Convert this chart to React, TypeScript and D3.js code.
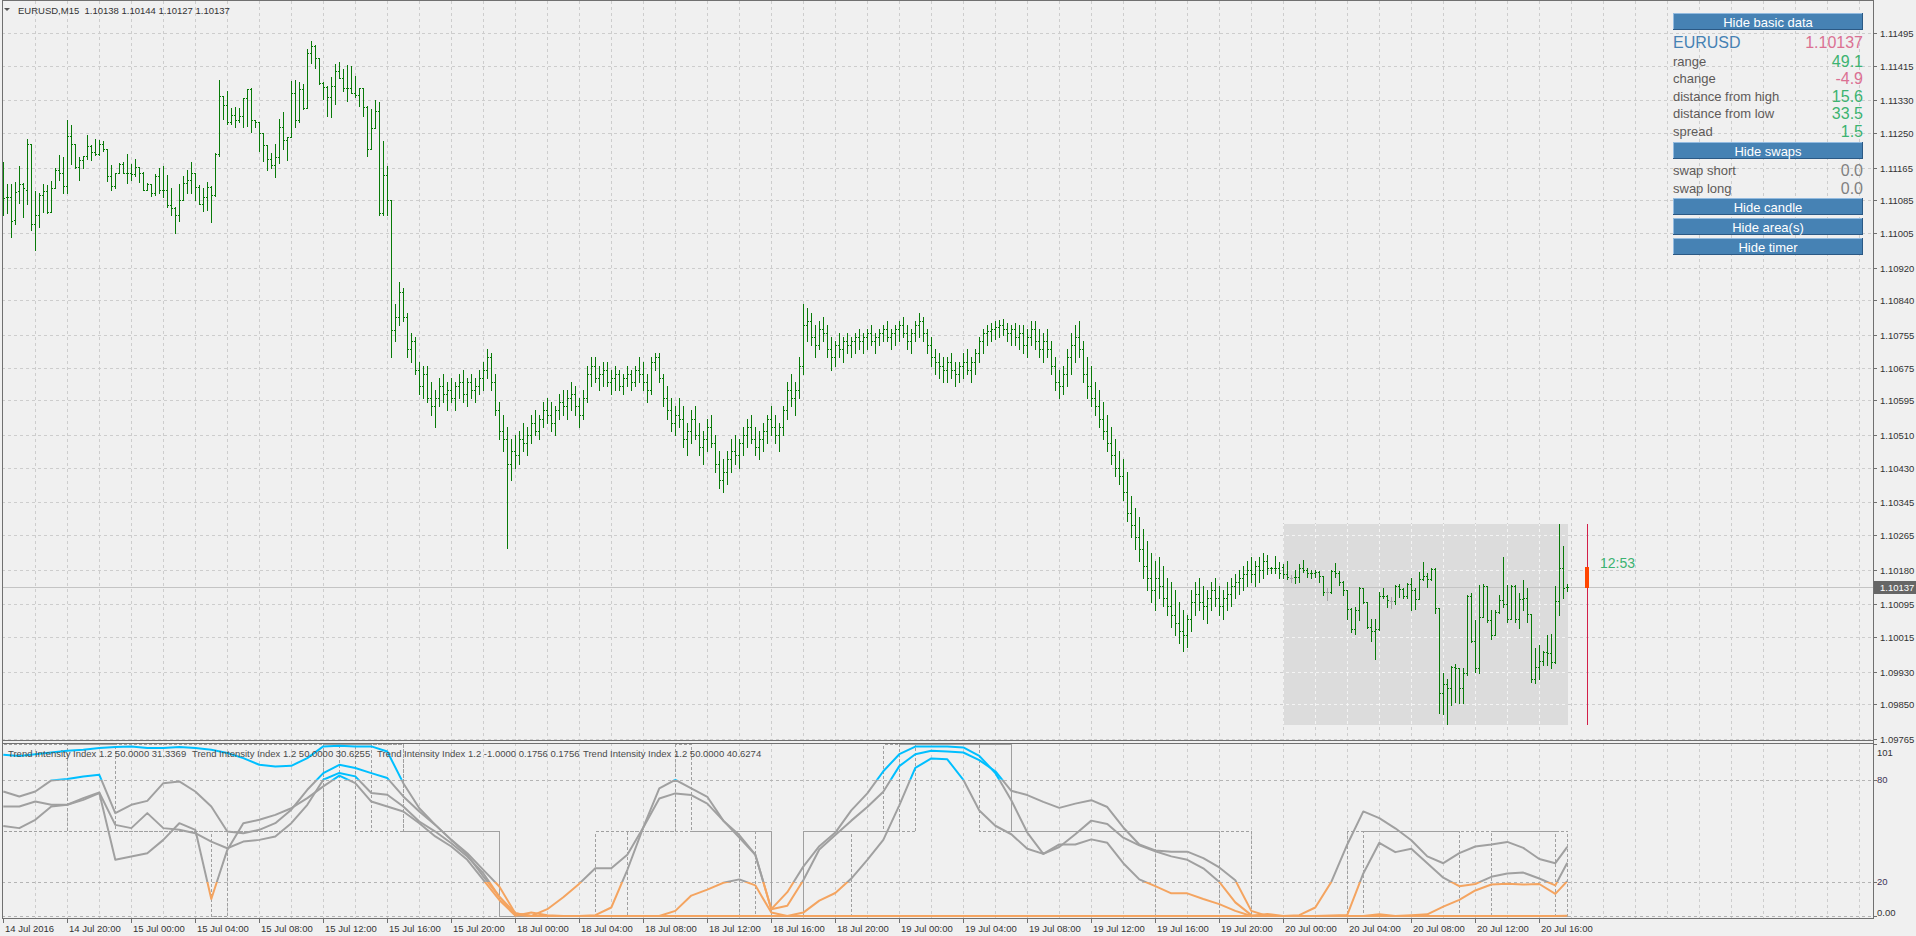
import React from "react";
import * as d3 from "d3";

const FONT = "'Liberation Sans', Arial, sans-serif";
const SYMBOL = "EURUSD";
const PERIOD = "M15";
const SPREAD_PIPS = 1.5;
const SWAP_SHORT = 0.0;
const SWAP_LONG = 0.0;
const DAY_START_BAR = 320;
const DAY_CANDLE_BAR = 396;
const TIMER_TEXT = "12:53";
const BUTTONS = ["Hide basic data", "Hide swaps", "Hide candle", "Hide area(s)", "Hide timer"];

// OHLC, price x 100000
const OPEN_PTS = [
111089,111092,111094,111036,111107,111125,111111,111222,111028,111048,
111099,111107,111057,111114,111159,111151,111120,111242,111224,111167,
111185,111193,111219,111204,111198,111222,111210,111144,111120,111152,
111175,111152,111151,111149,111167,111152,111111,111125,111102,111145,
111111,111110,111073,111065,111049,111085,111128,111134,111151,111118,
111077,111094,111118,111098,111198,111340,111318,111277,111294,111281,
111291,111335,111358,111283,111277,111249,111220,111187,111171,111192,
111265,111232,111239,111347,111283,111359,111312,111446,111463,111433,
111373,111363,111337,111366,111402,111385,111361,111360,111348,111343,
111361,111314,111210,111263,111303,111054,111148,111085,110766,110800,
110860,110800,110720,110740,110670,110630,110660,110600,110580,110600,
110630,110610,110620,110600,110630,110640,110610,110640,110620,110630,
110650,110670,110700,110640,110570,110520,110500,110440,110470,110460,
110500,110490,110510,110540,110520,110550,110570,110560,110540,110570,
110590,110580,110600,110610,110580,110560,110600,110660,110680,110650,
110660,110670,110640,110650,110660,110630,110650,110660,110640,110670,
110660,110640,110620,110690,110700,110650,110600,110570,110540,110560,
110550,110500,110520,110550,110510,110480,110500,110530,110490,110440,
110400,110420,110450,110470,110460,110490,110510,110530,110500,110480,
110500,110520,110550,110530,110510,110530,110570,110620,110600,110620,
110680,110780,110790,110750,110730,110770,110760,110720,110700,110730,
110720,110740,110730,110740,110750,110740,110750,110760,110740,110750,
110760,110770,110750,110760,110770,110780,110760,110740,110760,110780,
110790,110760,110730,110700,110690,110680,110670,110690,110670,110660,
110680,110690,110670,110690,110710,110740,110760,110765,110770,110775,
110780,110770,110760,110770,110750,110760,110730,110750,110770,110740,
110720,110740,110720,110680,110640,110630,110660,110700,110730,110750,
110720,110660,110630,110600,110580,110550,110520,110490,110460,110430,
110410,110370,110320,110290,110260,110230,110190,110160,110130,110160,
110140,110110,110090,110070,110050,110030,110020,110060,110100,110120,
110100,110090,110110,110130,110110,110090,110110,110120,110140,110150,
110160,110170,110180,110170,110190,110180,110200,110183,110183,110185,
110186,110169,110159,110161,110163,110183,110179,110172,110171,110175,
110164,110126,110126,110176,110172,110150,110130,110083,110034,110081,
110136,110101,110040,110030,110034,110115,110116,110104,110104,110140,
110132,110115,110146,110130,110109,110156,110165,110156,110181,110087,
109878,109900,109889,109942,109938,109889,109926,110115,110006,109938,
110063,110140,110056,110020,110077,110105,110097,110060,110140,110060,
110107,110110,110071,109911,109942,109957,109979,109975,109954,110104,
110185,110138
];
const HIGH_PTS = [
111179,111125,111126,111130,111169,111128,111235,111223,111107,111104,
111125,111122,111132,111165,111196,111192,111281,111269,111224,111192,
111193,111245,111220,111235,111232,111230,111210,111171,111152,111177,
111179,111198,111175,111186,111167,111155,111128,111126,111149,111165,
111169,111147,111114,111069,111124,111145,111159,111178,111151,111122,
111114,111130,111120,111201,111381,111340,111352,111310,111314,111312,
111336,111359,111361,111283,111277,111249,111220,111200,111223,111285,
111302,111241,111378,111381,111375,111371,111455,111475,111465,111433,
111375,111365,111388,111420,111423,111406,111416,111414,111389,111361,
111361,111316,111308,111330,111326,111230,111169,111087,110830,110885,
110870,110810,110760,110750,110690,110680,110680,110640,110620,110650,
110660,110640,110650,110640,110660,110670,110650,110660,110650,110670,
110690,110720,110710,110660,110590,110560,110530,110500,110510,110520,
110540,110530,110560,110570,110560,110590,110600,110590,110580,110610,
110620,110620,110640,110630,110600,110620,110680,110700,110700,110680,
110690,110690,110670,110680,110670,110660,110680,110670,110680,110700,
110690,110660,110700,110712,110710,110660,110630,110600,110580,110600,
110580,110540,110570,110580,110540,110520,110550,110560,110510,110470,
110450,110470,110500,110510,110500,110530,110550,110560,110530,110520,
110540,110560,110580,110560,110540,110580,110640,110660,110640,110700,
110830,110820,110810,110780,110790,110800,110780,110750,110740,110760,
110750,110760,110750,110760,110770,110760,110770,110780,110760,110770,
110780,110790,110770,110780,110790,110800,110780,110770,110790,110810,
110800,110770,110750,110720,110710,110700,110700,110710,110690,110690,
110710,110720,110700,110720,110750,110770,110780,110785,110790,110792,
110795,110785,110780,110785,110780,110780,110770,110790,110790,110770,
110760,110770,110740,110700,110670,110680,110720,110760,110780,110790,
110740,110700,110680,110640,110620,110590,110560,110530,110500,110470,
110450,110420,110360,110330,110310,110280,110250,110220,110200,110210,
110190,110160,110150,110130,110100,110080,110070,110130,110150,110160,
110140,110130,110150,110160,110140,110130,110150,110160,110170,110180,
110190,110200,110210,110200,110210,110220,110215,110187,110213,110199,
110195,110202,110168,110179,110195,110203,110183,110179,110179,110177,
110164,110136,110179,110197,110176,110153,110130,110085,110089,110138,
110136,110101,110060,110058,110126,110134,110118,110112,110142,110145,
110134,110148,110159,110134,110175,110199,110171,110185,110183,110087,
109927,109913,109944,109949,109940,109938,110118,110122,110056,110142,
110145,110140,110081,110081,110118,110210,110142,110142,110142,110122,
110154,110136,110071,109989,109995,109981,110020,110022,110140,110293,
110238,110144
];
const LOW_PTS = [
111049,111054,110994,111028,111079,111045,111077,111013,110964,111020,
111057,111054,111057,111114,111136,111102,111102,111175,111163,111134,
111163,111187,111183,111196,111196,111206,111133,111110,111114,111151,
111151,111128,111136,111144,111130,111110,111111,111096,111098,111103,
111094,111069,111050,111005,111035,111085,111102,111102,111085,111075,
111059,111061,111032,111096,111193,111285,111272,111273,111265,111277,
111265,111267,111253,111265,111206,111182,111159,111163,111141,111177,
111210,111183,111239,111265,111277,111308,111310,111422,111410,111371,
111333,111291,111288,111322,111384,111353,111329,111347,111339,111317,
111291,111193,111210,111263,111050,111049,111049,110700,110740,110780,
110790,110700,110690,110660,110610,110600,110590,110560,110530,110580,
110590,110570,110590,110570,110600,110590,110580,110600,110590,110610,
110620,110650,110620,110560,110500,110470,110232,110400,110430,110440,
110470,110460,110490,110510,110500,110530,110540,110520,110510,110550,
110560,110550,110570,110560,110530,110550,110590,110630,110640,110620,
110630,110630,110610,110620,110620,110610,110630,110620,110630,110640,
110620,110590,110610,110670,110640,110580,110550,110520,110510,110530,
110480,110460,110490,110500,110460,110440,110470,110480,110420,110380,
110370,110390,110420,110440,110430,110460,110480,110490,110460,110450,
110470,110490,110510,110490,110470,110510,110550,110580,110560,110600,
110660,110740,110730,110700,110720,110740,110700,110670,110680,110700,
110690,110710,110700,110710,110720,110710,110720,110730,110710,110730,
110740,110740,110720,110730,110740,110750,110720,110710,110740,110750,
110740,110710,110680,110660,110650,110640,110640,110650,110630,110640,
110650,110660,110640,110660,110690,110710,110730,110740,110745,110750,
110755,110740,110730,110730,110720,110710,110700,110730,110720,110700,
110690,110700,110660,110620,110600,110610,110630,110660,110690,110700,
110640,110600,110580,110560,110530,110500,110470,110440,110410,110390,
110350,110300,110260,110230,110200,110160,110130,110100,110080,110110,
110090,110070,110040,110020,110000,109980,109990,110030,110070,110080,
110060,110050,110080,110090,110070,110060,110080,110090,110110,110120,
110130,110140,110150,110140,110150,110160,110170,110171,110171,110159,
110159,110157,110150,110148,110150,110175,110163,110159,110163,110150,
110118,110105,110122,110163,110142,110119,110060,110028,110022,110056,
110099,110038,110006,109960,110032,110110,110089,110087,110097,110114,
110110,110110,110081,110083,110109,110154,110138,110154,110073,109828,
109826,109802,109848,109856,109852,109852,109922,110003,109930,109927,
110063,110052,110011,110020,110074,110089,110052,110060,110052,110038,
110081,110052,109905,109903,109911,109946,109946,109940,109952,110069,
110110,110127
];
const CLOSE_PTS = [
111090,111094,111035,111106,111125,111114,111222,111028,111048,111099,
111107,111057,111114,111159,111151,111120,111242,111224,111167,111185,
111193,111219,111204,111198,111222,111210,111144,111120,111152,111175,
111152,111151,111149,111167,111152,111111,111125,111102,111145,111111,
111110,111073,111065,111049,111085,111128,111134,111151,111118,111077,
111094,111118,111098,111198,111340,111318,111277,111294,111281,111291,
111335,111358,111283,111277,111249,111220,111187,111171,111192,111265,
111232,111239,111347,111283,111359,111312,111446,111463,111433,111373,
111363,111337,111366,111402,111385,111361,111360,111348,111343,111361,
111314,111210,111263,111303,111054,111148,111085,110766,110800,110860,
110800,110720,110740,110670,110630,110660,110600,110580,110600,110630,
110610,110620,110600,110630,110640,110610,110640,110620,110630,110650,
110670,110700,110640,110570,110520,110500,110440,110470,110460,110500,
110490,110510,110540,110520,110550,110570,110560,110540,110570,110590,
110580,110600,110610,110580,110560,110600,110660,110680,110650,110660,
110670,110640,110650,110660,110630,110650,110660,110640,110670,110660,
110640,110620,110690,110700,110650,110600,110570,110540,110560,110550,
110500,110520,110550,110510,110480,110500,110530,110490,110440,110400,
110420,110450,110470,110460,110490,110510,110530,110500,110480,110500,
110520,110550,110530,110510,110530,110570,110620,110600,110620,110680,
110780,110790,110750,110730,110770,110760,110720,110700,110730,110720,
110740,110730,110740,110750,110740,110750,110760,110740,110750,110760,
110770,110750,110760,110770,110780,110760,110740,110760,110780,110790,
110760,110730,110700,110690,110680,110670,110690,110670,110660,110680,
110690,110670,110690,110710,110740,110760,110765,110770,110775,110780,
110770,110760,110770,110750,110760,110730,110750,110770,110740,110720,
110740,110720,110680,110640,110630,110660,110700,110730,110750,110720,
110660,110630,110600,110580,110550,110520,110490,110460,110430,110410,
110370,110320,110290,110260,110230,110190,110160,110130,110160,110140,
110110,110090,110070,110050,110030,110020,110060,110100,110120,110100,
110090,110110,110130,110110,110090,110110,110120,110140,110150,110160,
110170,110180,110170,110190,110180,110200,110185,110184,110185,110171,
110169,110163,110159,110163,110183,110179,110172,110171,110175,110164,
110126,110126,110176,110172,110150,110130,110083,110034,110081,110136,
110101,110040,110030,110034,110115,110116,110105,110104,110140,110132,
110115,110146,110130,110109,110156,110165,110156,110181,110087,109878,
109900,109889,109942,109938,109889,109926,110115,110006,109938,110063,
110140,110056,110020,110077,110105,110097,110060,110140,110060,110107,
110110,110071,109911,109942,109957,109979,109975,109954,110104,110185,
110136,110137
];
const DAY_OPEN_PTS = 110186;

const PRICE_TICKS = [1.11495, 1.11415, 1.1133, 1.1125, 1.11165, 1.11085, 1.11005, 1.1092, 1.1084, 1.10755, 1.10675,
  1.10595, 1.1051, 1.1043, 1.10345, 1.10265, 1.1018, 1.10095, 1.10015, 1.0993, 1.0985, 1.09765];

const TIME_LABELS = ["14 Jul 2016", "14 Jul 20:00", "15 Jul 00:00", "15 Jul 04:00", "15 Jul 08:00", "15 Jul 12:00",
  "15 Jul 16:00", "15 Jul 20:00", "18 Jul 00:00", "18 Jul 04:00", "18 Jul 08:00", "18 Jul 12:00", "18 Jul 16:00",
  "18 Jul 20:00", "19 Jul 00:00", "19 Jul 04:00", "19 Jul 08:00", "19 Jul 12:00", "19 Jul 16:00", "19 Jul 20:00",
  "20 Jul 00:00", "20 Jul 04:00", "20 Jul 08:00", "20 Jul 12:00", "20 Jul 16:00"];
const TIME_LABEL_STEP = 16;
const GRID_STEP = 8;

// Trend Intensity Index lines, sampled every 4 bars (+ last bar)
const TII_A = [94.7,94,95,96,97,97.6,98.6,99.2,99.6,98.6, 98.6,99.2,98.6,97.6,95.7,92.7,88.8,87.8,88.2,92.7,
  99.6,100,99.6,99.6,96.6,78,63.3,53.5,44.7,35.9, 23.2,11.4,1.6,
  0,0,0,0,0,0,0, 0,0,0,0,0,0,0,0,0,0,
  2,9,13.5,22,33,44.7,65,87,92.5,92, 80,62,53,48,39.5,36.5,40.5,48,56,
  54,46,41.5,38,35,33,28,20,8,0.5, 0,0,0,0,0.3,0.6,
  25,43,37.5,39.5,31,22.5,17.5,18.8,23,25,25.5,22,18, 31.3];
const TII_B = [73.1,70.2,73.1,79.6,80.4,81.9,82.9,60.4,65.3,67.6, 78,79,73.1,64.3,49.6,48.6,50.6,54.5,62.4,74.1,
  83.9,88.8,86.9,83.9,81,70.2,61.4,53.5,44.7,36.9, 27.1,17.3,1.6,
  0,4,11,19,28,28,36,52,75,80, 75,70,56,46,36,4,
  14,29,41,49,62,72,85,95,99.5,99.6, 99.6,99,94,84,68,49,36.5,42,42,45,
  43,31,21.5,17.5,13.3,13.3,10,7,3,0, 0,0,0,0,0,0,0,0,0,0.5,1,
  5.5,9.5,15,18.5,19,18.5,18.8,13, 20.5];
const TII_C = [64.3,64.3,67.2,65.3,65.3,69.2,72.5,53.5,51.6,60.4, 51.6,50.6,48.6,43.7,39.8,43.7,44.7,46.7,54.5,65.3,
  80,84,82,72.2,71.2,64.3,55.5,49.6,42.7,34.9, 25.1,11.4,0.6,
  0,0,0,0,0.5,5,27,52,69,72, 71,66,56,47.5,36,4,
  6,21,39,47.5,56,64,73,88,95,97, 96.6,96,91.5,85,73.5,71,67,63.5,66,68,
  64,52,42,38.5,37.8,37.8,34,28.5,21,3,
  0,0,0.5,5,20,42,61.4,57.5,51.5,44.5, 35,31,36.9,40.8,42,43.5,40,33.5,31, 40.6];
const TII_D = [52.9,51.6,56.5,64.3,65.3,68.2,72.2,33,34.9,36.9, 44.7,54.5,50.6,10,38.8,54.5,56.5,59.4,63.3,69.2,
  76.1,82.4,78,67.2,64.3,61.4,54.5,46.7,40.8,33, 21.2,9.4,0.2,
  2,0.5,0,0,0,0,0,0,0,3, 12,15.5,19.5,21.5,18,2,
  0,0,0,0,0,0,0,0,0,0, 0,0,0,0,0,0,0,0,0,0, 0,0,0,0,0,0,0,0,0,0,
  1.2, 0,0,0,0,0,0, 1, 0,0,0,0,0,0,0,0,0,0,0, 0.18];
const TII_HEADERS = [
  "Trend Intensity Index 1.2 50.0000 31.3369",
  "Trend Intensity Index 1.2 50.0000 30.6255",
  "Trend Intensity Index 1.2 -1.0000 0.1756 0.1756",
  "Trend Intensity Index 1.2 50.0000 40.6274",
];
const TII_HEADER_X = [8, 192, 377, 583];
const IND_LEVELS = [80, 20, 0];

// layout
const W = 1916, H = 936;
const PLOT_L = 2, PLOT_R = 1873, MAIN_T = 1, MAIN_B = 740, IND_T = 743, IND_B = 918;
const GRID_COL = "#cdcdcd";
const BAR_COL = "#087a08";
const DOJI_COL = "#a8a8a8";

const fmt5 = (v: number) => v.toFixed(5);

export default function App() {
  const N = OPEN_PTS.length;
  const bars = d3.range(N).map((i) => ({
    i,
    o: OPEN_PTS[i] / 1e5,
    h: HIGH_PTS[i] / 1e5,
    l: LOW_PTS[i] / 1e5,
    c: CLOSE_PTS[i] / 1e5,
  }));
  const last = bars[N - 1];

  const xs = d3.scaleLinear().domain([0, 1]).range([3.3, 7.3]);
  const y = d3.scaleLinear().domain([1.09765, 1.11495]).range([739, 33]);
  const yi = d3.scaleLinear().domain([0, 101]).range([916, 744]);

  const dayBars = bars.filter((b) => b.i >= DAY_START_BAR);
  const dayHigh = d3.max(dayBars, (b) => b.h) as number;
  const dayLow = d3.min(dayBars, (b) => b.l) as number;
  const dayOpen = DAY_OPEN_PTS / 1e5;

  const gridXs: number[] = [];
  for (let b = GRID_STEP; xs(b) < PLOT_R - 2; b += GRID_STEP) gridXs.push(Math.round(xs(b)) + 0.5);
  const gridYs = PRICE_TICKS.map((p) => Math.round(y(p)) + 0.5);

  const tiiBars = d3.range(0, N - 3, 4).concat([N - 1]);
  const series = [TII_A, TII_B, TII_C, TII_D];
  const lineGen = d3
    .line<number>()
    .x((_, k) => xs(tiiBars[k]))
    .y((v) => yi(v));
  const stepGen = d3
    .line<number>()
    .x((_, k) => Math.round(xs(tiiBars[k])) + 0.5)
    .y((v) => Math.round(yi(v)) + 0.5)
    .curve(d3.curveStepAfter);
  const stateOf = (v: number) => (v >= 80 ? 101 : v <= 20 ? 0 : 50);

  const boxX0 = Math.round(xs(DAY_START_BAR));
  const boxX1 = Math.round(xs(N - 1)) + 1;
  const boxY0 = Math.round(y(dayHigh));
  const boxY1 = Math.round(y(dayLow)) + 1;

  const grid = (stroke: string) => (
    <g stroke={stroke} strokeWidth={1} strokeDasharray="3,3" shapeRendering="crispEdges">
      {gridXs.map((gx) => (
        <line key={"v" + gx} x1={gx} x2={gx} y1={MAIN_T} y2={MAIN_B} />
      ))}
      {gridYs.map((gy) => (
        <line key={"h" + gy} x1={PLOT_L} x2={PLOT_R} y1={gy} y2={gy} />
      ))}
    </g>
  );

  const bidY = Math.round(y(last.c)) + 0.5;
  const candleX = Math.round(xs(DAY_CANDLE_BAR));

  const pips = (v: number) => (v * 1e4).toFixed(1);
  const infoRows = [
    { label: "range", value: pips(dayHigh - dayLow), color: "#3cb371", cy: 61 },
    { label: "change", value: pips(last.c - dayOpen), color: "#db7093", cy: 78 },
    { label: "distance from high", value: pips(dayHigh - last.c), color: "#3cb371", cy: 96 },
    { label: "distance from low", value: pips(last.c - dayLow), color: "#3cb371", cy: 113 },
    { label: "spread", value: SPREAD_PIPS.toFixed(1), color: "#3cb371", cy: 131 },
    { label: "swap short", value: SWAP_SHORT.toFixed(1), color: "#808080", cy: 170 },
    { label: "swap long", value: SWAP_LONG.toFixed(1), color: "#808080", cy: 188 },
  ];
  const BTN_X = 1673, BTN_W = 190, BTN_H = 17;
  const btnYs = [13, 142, 198, 218, 238];

  const indLabels = [
    { v: 101, t: "101", dy: 8, col: "#333" },
    { v: 80, t: "80", dy: 0, col: "#3e3457" },
    { v: 20, t: "20", dy: 0, col: "#3e3457" },
    { v: 0, t: "0.00", dy: -4, col: "#333" },
  ];

  return (
    <svg
      width={W}
      height={H}
      style={{ position: "fixed", left: 0, top: 0, display: "block" }}
      fontFamily={FONT}
    >
      <defs>
        <clipPath id="boxClip">
          <rect x={boxX0} y={boxY0} width={boxX1 - boxX0} height={boxY1 - boxY0} />
        </clipPath>
        <clipPath id="clipHi">
          <rect x={PLOT_L} y={IND_T} width={PLOT_R - PLOT_L} height={yi(80) - IND_T} />
        </clipPath>
        <clipPath id="clipMid">
          <rect x={PLOT_L} y={yi(80)} width={PLOT_R - PLOT_L} height={yi(20) - yi(80)} />
        </clipPath>
        <clipPath id="clipLo">
          <rect x={PLOT_L} y={yi(20)} width={PLOT_R - PLOT_L} height={IND_B - yi(20)} />
        </clipPath>
      </defs>
      <rect x={0} y={0} width={W} height={H} fill="#f0f0f0" />

      {/* main grid */}
      {grid(GRID_COL)}
      {/* day range area */}
      <rect x={boxX0} y={boxY0} width={boxX1 - boxX0} height={boxY1 - boxY0} fill="#dcdcdc" />
      <g clipPath="url(#boxClip)">{grid("#f4f4f4")}</g>

      {/* bid line */}
      <line x1={PLOT_L} x2={PLOT_R} y1={bidY} y2={bidY} stroke="#c4c4c4" shapeRendering="crispEdges" />

      {/* OHLC bars */}
      <g shapeRendering="crispEdges">
        {bars.map((b) => {
          const px = Math.round(xs(b.i));
          const yh = Math.round(y(b.h));
          const yl = Math.round(y(b.l));
          const col = b.o === b.c ? DOJI_COL : BAR_COL;
          return (
            <g key={b.i} fill={col}>
              <rect x={px} y={yh} width={1} height={Math.max(1, yl - yh + 1)} />
              <rect x={px - 1} y={Math.round(y(b.o))} width={1} height={1} />
              <rect x={px + 1} y={Math.round(y(b.c))} width={1} height={1} />
            </g>
          );
        })}
      </g>

      {/* day candle */}
      <rect x={candleX} y={boxY0} width={1} height={boxY1 - boxY0} fill="#d21f48" shapeRendering="crispEdges" />
      <rect
        x={candleX - 2}
        y={Math.round(y(dayOpen))}
        width={4}
        height={Math.round(y(last.c)) - Math.round(y(dayOpen)) + 1}
        fill="#ff4500"
        shapeRendering="crispEdges"
      />
      <text x={1600} y={563} fontSize={14} fill="#3cb371" dominantBaseline="central">
        {TIMER_TEXT}
      </text>

      {/* header */}
      <path d="M4,8 L10,8 L7,11 Z" fill="#555" />
      <text x={18} y={10} fontSize={9.5} fill="#333" dominantBaseline="central" style={{ whiteSpace: "pre" }}>
        {`${SYMBOL},${PERIOD}  ${fmt5(last.o)} ${fmt5(last.h)} ${fmt5(last.l)} ${fmt5(last.c)}`}
      </text>

      {/* info panel */}
      {BUTTONS.map((lbl, k) => (
        <g key={lbl}>
          <rect x={BTN_X} y={btnYs[k]} width={BTN_W} height={BTN_H} fill="#4682b4" />
          <line x1={BTN_X} x2={BTN_X + BTN_W} y1={btnYs[k] + 0.5} y2={btnYs[k] + 0.5} stroke="#93bbe0" />
          <line x1={BTN_X + 0.5} x2={BTN_X + 0.5} y1={btnYs[k]} y2={btnYs[k] + BTN_H} stroke="#93bbe0" />
          <line x1={BTN_X} x2={BTN_X + BTN_W} y1={btnYs[k] + BTN_H - 0.5} y2={btnYs[k] + BTN_H - 0.5} stroke="#2b5985" />
          <line x1={BTN_X + BTN_W - 0.5} x2={BTN_X + BTN_W - 0.5} y1={btnYs[k]} y2={btnYs[k] + BTN_H} stroke="#2b5985" />
          <text x={BTN_X + BTN_W / 2} y={btnYs[k] + BTN_H / 2 + 0.5} textAnchor="middle" dominantBaseline="central" fill="#fff" fontSize={13}>
            {lbl}
          </text>
        </g>
      ))}
      <text x={BTN_X} y={42} fontSize={16} fill="#4682b4" dominantBaseline="central">{SYMBOL}</text>
      <text x={BTN_X + BTN_W} y={42} fontSize={16} fill="#db7093" textAnchor="end" dominantBaseline="central">{fmt5(last.c)}</text>
      {infoRows.map((r) => (
        <g key={r.label}>
          <text x={BTN_X} y={r.cy} fontSize={13} fill="#5e5a58" dominantBaseline="central">{r.label}</text>
          <text x={BTN_X + BTN_W} y={r.cy} fontSize={16} fill={r.color} textAnchor="end" dominantBaseline="central">{r.value}</text>
        </g>
      ))}

      {/* indicator grid */}
      <g stroke={GRID_COL} strokeDasharray="3,3" shapeRendering="crispEdges">
        {gridXs.map((gx) => (
          <line key={"iv" + gx} x1={gx} x2={gx} y1={IND_T} y2={IND_B} />
        ))}
      </g>
      <g stroke="#b4b4b4" strokeDasharray="3,3" shapeRendering="crispEdges">
        {IND_LEVELS.map((lv) => (
          <line key={"lv" + lv} x1={PLOT_L} x2={PLOT_R} y1={Math.round(yi(lv)) + 0.5} y2={Math.round(yi(lv)) + 0.5} />
        ))}
      </g>
      {/* state step lines */}
      <g fill="none" stroke="#a0a0a0" strokeWidth={1} strokeDasharray="3,2" shapeRendering="crispEdges">
        {series.map((s, k) => (
          <path key={"st" + k} d={stepGen(s.map(stateOf)) || ""} />
        ))}
      </g>
      {/* TII lines */}
      {[
        { clip: "clipMid", col: "#a0a0a0" },
        { clip: "clipHi", col: "#00bfff" },
        { clip: "clipLo", col: "#f4a460" },
      ].map((z) => (
        <g key={z.clip} clipPath={`url(#${z.clip})`} fill="none" stroke={z.col} strokeWidth={2} strokeLinejoin="round">
          {series.map((s, k) => (
            <path key={k} d={lineGen(s) || ""} />
          ))}
        </g>
      ))}
      {TII_HEADERS.map((t, k) => (
        <text key={t} x={TII_HEADER_X[k]} y={753} fontSize={9.5} fill="#4a4a4a" dominantBaseline="central">
          {t}
        </text>
      ))}

      {/* frames */}
      <g stroke="#707070" strokeWidth={1} shapeRendering="crispEdges">
        <line x1={PLOT_L + 0.5} x2={PLOT_L + 0.5} y1={0} y2={IND_B} />
        <line x1={PLOT_L} x2={PLOT_R} y1={0.5} y2={0.5} />
        <line x1={PLOT_R + 0.5} x2={PLOT_R + 0.5} y1={0} y2={IND_B + 1} />
        <line x1={PLOT_L} x2={PLOT_R} y1={MAIN_B + 0.5} y2={MAIN_B + 0.5} />
        <line x1={PLOT_L} x2={PLOT_R} y1={IND_T + 0.5} y2={IND_T + 0.5} />
        <line x1={PLOT_L} x2={PLOT_R} y1={IND_B + 0.5} y2={IND_B + 0.5} />
      </g>

      {/* price axis */}
      <g fontSize={9.5} fill="#333">
        {PRICE_TICKS.map((p, k) => (
          <g key={p}>
            <line x1={PLOT_R} x2={PLOT_R + 4} y1={gridYs[k]} y2={gridYs[k]} stroke="#707070" shapeRendering="crispEdges" />
            <text x={1880} y={gridYs[k]} dominantBaseline="central">{p.toFixed(5)}</text>
          </g>
        ))}
      </g>
      <rect x={PLOT_R + 1} y={bidY - 6.5} width={W - PLOT_R - 1} height={13} fill="#666" />
      <text x={1880} y={bidY} fontSize={9.5} fill="#fff" dominantBaseline="central">{fmt5(last.c)}</text>

      {/* indicator axis */}
      <g fontSize={9.5}>
        {indLabels.map((l) => (
          <g key={l.t}>
            <line x1={PLOT_R} x2={PLOT_R + 4} y1={Math.round(yi(l.v)) + 0.5} y2={Math.round(yi(l.v)) + 0.5} stroke="#707070" shapeRendering="crispEdges" />
            <text x={1877} y={yi(l.v) + l.dy} fill={l.col} dominantBaseline="central">{l.t}</text>
          </g>
        ))}
      </g>

      {/* time axis */}
      <g fontSize={9.5} fill="#333">
        {TIME_LABELS.map((t, k) => {
          const tx = Math.round(xs(k * TIME_LABEL_STEP)) + 0.5;
          return (
            <g key={t}>
              <line x1={tx} x2={tx} y1={IND_B} y2={IND_B + 5} stroke="#707070" shapeRendering="crispEdges" />
              <text x={tx + 1.5} y={928} dominantBaseline="central">{t}</text>
            </g>
          );
        })}
      </g>
    </svg>
  );
}
